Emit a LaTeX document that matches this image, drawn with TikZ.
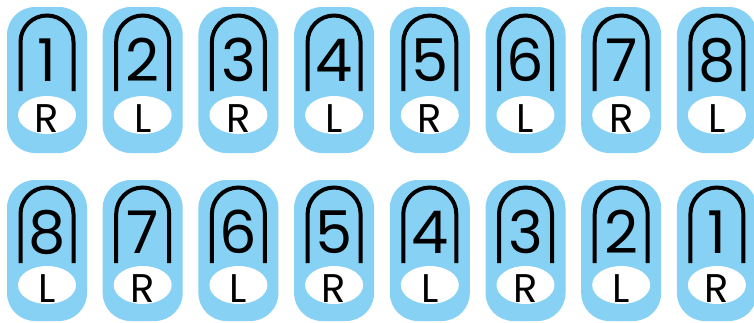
\documentclass[tikz,border=0pt]{standalone}
\usepackage{fontspec}
\setmainfont{Poppins}
\usetikzlibrary{shapes.geometric}
\definecolor{pillblue}{RGB}{134,209,244}
\tikzset{
  pillbox/.style={rectangle, rounded corners=28pt, fill=pillblue, draw=none, minimum width=80pt, inner sep=0pt},
  archline/.style={line width=4pt, draw=black, line cap=butt},
  digit/.style={inner sep=0pt, font=\fontsize{59}{59}\selectfont, text=black},
  badge/.style={ellipse, fill=white, draw=none, minimum width=58pt, minimum height=38pt, inner sep=0pt, outer sep=0pt},
  letter/.style={inner sep=0pt, font=\fontsize{40}{40}\selectfont, text=black}
}
\begin{document}
\begin{tikzpicture}[x=1pt,y=-1pt]
\useasboundingbox (0,0) rectangle (754,322);
% row 1
\foreach \i/\d/\s in {1/1/R,2/2/L,3/3/R,4/4/L,5/5/R,6/6/L,7/7/R,8/8/L}{
  \pgfmathsetmacro\cx{47+95.7*(\i-1)}
  \pgfmathsetmacro\tp{7}
  \node[pillbox, minimum height=146pt] (pa\i) at (\cx,\tp+73) {};
  \draw[archline] (\cx-26.5,\tp+84) -- (\cx-26.5,\tp+35) arc[start angle=180,end angle=360,radius=26.5] -- (\cx+26.5,\tp+84);
  \node[digit] (da\i) at (\cx,\tp+53) {\d};
  \node[badge] (ba\i) at (\cx,\tp+108) {};
  \node[letter] (la\i) at (\cx,\tp+112) {\s};
}
% row 2
\foreach \i/\d/\s in {1/8/L,2/7/R,3/6/L,4/5/R,5/4/L,6/3/R,7/2/L,8/1/R}{
  \pgfmathsetmacro\cx{47+95.7*(\i-1)}
  \pgfmathsetmacro\tp{180}
  \node[pillbox, minimum height=141pt] (pb\i) at (\cx,\tp+70.5) {};
  \draw[archline] (\cx-26.5,\tp+83) -- (\cx-26.5,\tp+34) arc[start angle=180,end angle=360,radius=26.5] -- (\cx+26.5,\tp+83);
  \node[digit] (db\i) at (\cx,\tp+52) {\d};
  \node[badge] (bb\i) at (\cx,\tp+105) {};
  \node[letter] (lb\i) at (\cx,\tp+109) {\s};
}
\end{tikzpicture}
\end{document}
